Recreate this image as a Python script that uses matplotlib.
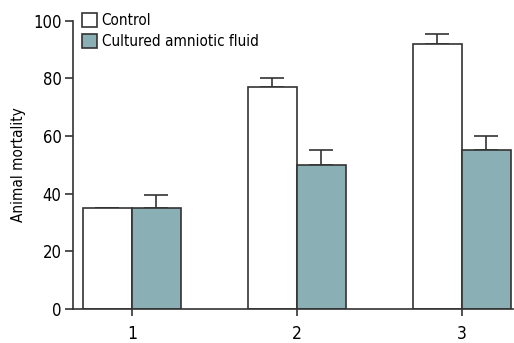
import numpy as np
import matplotlib.pyplot as plt
from matplotlib.patches import Patch

plt.rcParams['font.family'] = ['DejaVu Sans']
plt.rcParams['font.stretch'] = 'condensed'

groups = ["1", "2", "3"]
control = [35, 77, 92]
control_err = [0, 3, 3.5]
cultured = [35, 50, 55]
cultured_err = [4.5, 5, 5]

fig = plt.figure(figsize=(5.14, 3.43), dpi=100)
ax = fig.add_axes([0.1414, 0.100, 0.857, 0.839])

x = np.arange(1, len(groups) + 1)
w = 0.297
edge = "#333333"
teal = "#8AB0B5"

ax.bar(x - w / 2, control, w, color="white", edgecolor=edge, linewidth=1.2, zorder=2)
ax.bar(x + w / 2, cultured, w, color=teal, edgecolor=edge, linewidth=1.2, zorder=2)

# one-sided (upper) error bars
ax.errorbar(x - w / 2, control, yerr=[np.zeros(3), control_err], fmt="none",
            ecolor=edge, elinewidth=1.2, capsize=8.3, capthick=1.2, zorder=1)
ax.errorbar(x + w / 2, cultured, yerr=[np.zeros(3), cultured_err], fmt="none",
            ecolor=edge, elinewidth=1.2, capsize=8.3, capthick=1.2, zorder=1)

ax.set_xlim(0.642, 3.311)
ax.set_ylim(0, 100)
ax.set_xticks(x)
ax.set_xticklabels(groups)
ax.set_yticks([0, 20, 40, 60, 80, 100])
ax.set_ylabel("Animal mortality", fontsize=11, labelpad=5)

for s in ["top", "right"]:
    ax.spines[s].set_visible(False)
for s in ["left", "bottom"]:
    ax.spines[s].set_color(edge)
    ax.spines[s].set_linewidth(1.2)
ax.tick_params(axis="y", length=6, width=1.2, color=edge, labelsize=12, pad=2)
ax.tick_params(axis="x", length=5, width=1.2, color=edge, labelsize=12.5, pad=7)

handles = [Patch(facecolor="white", edgecolor=edge, linewidth=1.2, label="Control"),
           Patch(facecolor=teal, edgecolor=edge, linewidth=1.2, label="Cultured amniotic fluid")]
ax.legend(handles=handles, loc="upper left", bbox_to_anchor=(0.0, 1.06), frameon=False,
          fontsize=11, handlelength=1.0, handleheight=1.1, handletextpad=0.3,
          labelspacing=0.35, borderaxespad=0.2)

fig.savefig("out.png", dpi=100)
